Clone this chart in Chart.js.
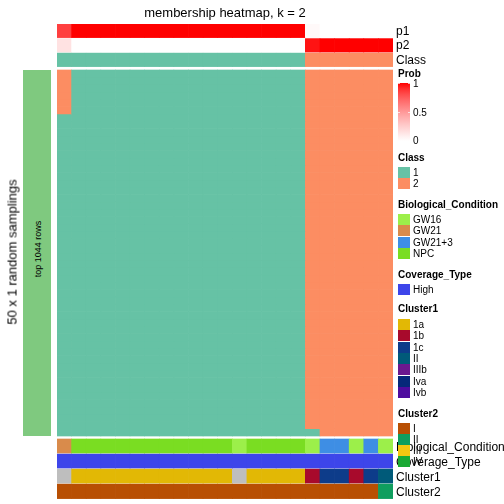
<!DOCTYPE html>
<html>
<head>
<meta charset="utf-8">
<script src="https://cdn.jsdelivr.net/npm/chart.js@4.4.1/dist/chart.umd.min.js"></script>
<style>
    body { margin: 0; background: #fff; }
    #wrap { position: relative; width: 504px; height: 504px; font-family: "Liberation Sans", Arial, sans-serif; color: #000; }
    #chart { position: absolute; left: 0; top: 0; }
    .txt { position: absolute; line-height: 1; white-space: nowrap; transform: translateY(-50%); }
    .rot { position: absolute; line-height: 1; white-space: nowrap; transform: translate(-50%, -50%) rotate(-90deg); }
    .sw { position: absolute; width: 12px; }
    .ltitle { font-weight: bold; font-size: 10px; }
</style>
</head>
<body>
<div id="wrap">
    <canvas id="chart" width="504" height="504"></canvas>
</div>
<script>
// columns of the heatmap (samples)
const samples = ['s01', 's02', 's03', 's04', 's05', 's06', 's07', 's08', 's09', 's10', 's11', 's12',
                 's13', 's14', 's15', 's16', 's17', 's18', 's19', 's20', 's21', 's22', 's23'];

// top annotations
const p1 = [0.85, 1, 1, 1, 1, 1, 1, 1, 1, 1, 1, 1, 1, 1, 1, 1, 1, 0.03, 0, 0, 0, 0, 0];
const p2 = [0.15, 0, 0, 0, 0, 0, 0, 0, 0, 0, 0, 0, 0, 0, 0, 0, 0, 0.97, 1, 1, 1, 1, 1];
const classCall = [1, 1, 1, 1, 1, 1, 1, 1, 1, 1, 1, 1, 1, 1, 1, 1, 1, 2, 2, 2, 2, 2, 2];

// bottom annotations
const bioCondition = ['GW21', 'NPC', 'NPC', 'NPC', 'NPC', 'NPC', 'NPC', 'NPC', 'NPC', 'NPC', 'NPC', 'NPC',
                      'GW16', 'NPC', 'NPC', 'NPC', 'NPC', 'GW16', 'GW21+3', 'GW21+3', 'GW16', 'GW21+3', 'GW16'];
const coverageType = ['High', 'High', 'High', 'High', 'High', 'High', 'High', 'High', 'High', 'High', 'High', 'High',
                      'High', 'High', 'High', 'High', 'High', 'High', 'High', 'High', 'High', 'High', 'High'];
const cluster1 = [null, '1a', '1a', '1a', '1a', '1a', '1a', '1a', '1a', '1a', '1a', '1a',
                  null, '1a', '1a', '1a', '1a', '1b', '1c', '1c', '1b', '1c', 'II'];
const cluster2 = ['I', 'I', 'I', 'I', 'I', 'I', 'I', 'I', 'I', 'I', 'I', 'I',
                  'I', 'I', 'I', 'I', 'I', 'I', 'I', 'I', 'I', 'I', 'II'];

// class per random sampling (rows) x sample (columns)
const membership = [
    '21111111111111111222222',
    '21111111111111111222222',
    '21111111111111111222222',
    '21111111111111111222222',
    '21111111111111111222222',
    '21111111111111111222222',
    '11111111111111111222222',
    '11111111111111111222222',
    '11111111111111111222222',
    '11111111111111111222222',
    '11111111111111111222222',
    '11111111111111111222222',
    '11111111111111111222222',
    '11111111111111111222222',
    '11111111111111111222222',
    '11111111111111111222222',
    '11111111111111111222222',
    '11111111111111111222222',
    '11111111111111111222222',
    '11111111111111111222222',
    '11111111111111111222222',
    '11111111111111111222222',
    '11111111111111111222222',
    '11111111111111111222222',
    '11111111111111111222222',
    '11111111111111111222222',
    '11111111111111111222222',
    '11111111111111111222222',
    '11111111111111111222222',
    '11111111111111111222222',
    '11111111111111111222222',
    '11111111111111111222222',
    '11111111111111111222222',
    '11111111111111111222222',
    '11111111111111111222222',
    '11111111111111111222222',
    '11111111111111111222222',
    '11111111111111111222222',
    '11111111111111111222222',
    '11111111111111111222222',
    '11111111111111111222222',
    '11111111111111111222222',
    '11111111111111111222222',
    '11111111111111111222222',
    '11111111111111111222222',
    '11111111111111111222222',
    '11111111111111111222222',
    '11111111111111111222222',
    '11111111111111111222222',
    '11111111111111111122222',
];

// legend values
const classLevels = ['1', '2'];
const classColors = ['#66C2A5', '#FC8D62'];
const bioLevels = ['GW16', 'GW21', 'GW21+3', 'NPC'];
const bioColors = ['#9CEF4A', '#D98B4B', '#3E8EE4', '#7ADD22'];
const coverageLevels = ['High'];
const coverageColors = ['#3D45EA'];
const cluster1Levels = ['1a', '1b', '1c', 'II', 'IIIb', 'Iva', 'Ivb'];
const cluster1Colors = ['#E2B805', '#A80A2C', '#0D3C8A', '#005A79', '#6B188F', '#06287A', '#4E0C9F'];
const cluster2Levels = ['I', 'II', 'III', 'IV'];
const cluster2Colors = ['#B84F03', '#0F9E5E', '#F5C711', '#1AA934'];
const probTicks = [1, 0.5, 0];

const NA_COLOR = '#BEBEBE';

function lookup(levels, colors) {
    return v => {
        const i = levels.indexOf(v);
        return i < 0 ? NA_COLOR : colors[i];
    };
}

// white -> red ramp, roughly like the LAB ramp of the original
function probColor(p) {
    const gb = Math.round(255 * Math.pow(1 - p, 0.74));
    return `rgb(255, ${gb}, ${gb})`;
}

// vertical layout of the tracks (in canvas pixels, the y scale runs 1:1)
const TOP = 24, BOTTOM = 499;
const HM_TOP = 70, HM_BOTTOM = 436;
const tracks = {
    p1: [24, 37.6], p2: [38.6, 52], cls: [53, 66.6],
    bio: [439, 453], cov: [454, 468], cl1: [469, 483], cl2: [484, 498.6]
};

function band(range, colors) {
    return {
        data: samples.map(() => range),
        backgroundColor: colors,
        borderWidth: 0,
        grouped: false,
        categoryPercentage: 1,
        barPercentage: 1,
    };
}

const classColor = lookup(['1', '2'], classColors);
const datasets = [
    band(tracks.p1, p1.map(probColor)),
    band(tracks.p2, p2.map(probColor)),
    band(tracks.cls, classCall.map(c => classColor(String(c)))),
    band(tracks.bio, bioCondition.map(lookup(bioLevels, bioColors))),
    band(tracks.cov, coverageType.map(lookup(coverageLevels, coverageColors))),
    band(tracks.cl1, cluster1.map(lookup(cluster1Levels, cluster1Colors))),
    band(tracks.cl2, cluster2.map(lookup(cluster2Levels, cluster2Colors))),
];

const rowH = (HM_BOTTOM - HM_TOP) / membership.length;
membership.forEach((row, r) => {
    const y0 = HM_TOP + r * rowH;
    datasets.push(band([y0, y0 + rowH], row.split('').map(classColor)));
});

new Chart(document.getElementById('chart').getContext('2d'), {
    type: 'bar',
    data: { labels: samples, datasets: datasets },
    options: {
        responsive: false,
        animation: false,
        events: [],
        layout: { padding: { left: 57, right: 111, top: 0, bottom: 5 } },
        plugins: {
            legend: { display: false },
            tooltip: { enabled: false },
            title: {
                display: true,
                text: 'membership heatmap, k = 2',
                color: '#000',
                font: { family: '"Liberation Sans", Arial, sans-serif', size: 13, weight: 'normal' },
                padding: { top: 6, bottom: 2.4 },
            }
        },
        scales: {
            x: { display: false, grid: { display: false } },
            y: { display: false, reverse: true, min: TOP, max: BOTTOM }
        }
    }
});

// ---- text and legends around the heatmap ----
const wrap = document.getElementById('wrap');

function addText(text, x, y, size, cls) {
    const d = document.createElement('div');
    d.className = cls || 'txt';
    d.textContent = text;
    d.style.left = x + 'px';
    d.style.top = y + 'px';
    d.style.fontSize = size + 'px';
    wrap.appendChild(d);
    return d;
}

function addBox(x, y, w, h, bg) {
    const d = document.createElement('div');
    d.className = 'sw';
    d.style.left = x + 'px';
    d.style.top = y + 'px';
    d.style.width = w + 'px';
    d.style.height = h + 'px';
    d.style.background = bg;
    wrap.appendChild(d);
    return d;
}

// row split bar on the left
addBox(23, HM_TOP, 28, HM_BOTTOM - HM_TOP, '#7FC97F');
addText('top 1044 rows', 38, 249, 9, 'rot');
addText('50 x 1 random samplings', 12, 252, 13, 'rot');

// track names on the right
addText('p1', 396, 31, 12);
addText('p2', 396, 45, 12);
addText('Class', 396, 60, 12);
addText('Biological_Condition', 396, 446.5, 12);
addText('Coverage_Type', 396, 462, 12);
addText('Cluster1', 396, 477, 12);
addText('Cluster2', 396, 492, 12);

// Prob colour bar
const stops = [];
for (let i = 0; i <= 10; i++) {
    const p = 1 - i / 10;
    stops.push(`${probColor(p)} ${i * 10}%`);
}
addText('Prob', 398, 74, 10).classList.add('ltitle');
addBox(398, 83, 12, 58, `linear-gradient(to bottom, ${stops.join(', ')})`);
probTicks.forEach(t => {
    const y = 83 + (1 - t) * 57;
    addText(String(t), 413, y + 1, 10);
    if (t > 0) {
        addBox(398, y, 2, 1, 'rgba(255,255,255,0.7)');
        addBox(408, y, 2, 1, 'rgba(255,255,255,0.7)');
    }
});

function legend(title, titleY, levels, colors, firstY) {
    addText(title, 398, titleY, 10).classList.add('ltitle');
    levels.forEach((lv, i) => {
        const y = firstY + i * 11.3;
        addBox(398, y, 12, 11, colors[i]);
        addText(lv, 413, y + 6, 10);
    });
}

legend('Class', 158, classLevels, classColors, 167);
legend('Biological_Condition', 205, bioLevels, bioColors, 214);
legend('Coverage_Type', 275, coverageLevels, coverageColors, 283.5);
legend('Cluster1', 309, cluster1Levels, cluster1Colors, 319);
legend('Cluster2', 414, cluster2Levels, cluster2Colors, 422.5);
</script>
</body>
</html>
